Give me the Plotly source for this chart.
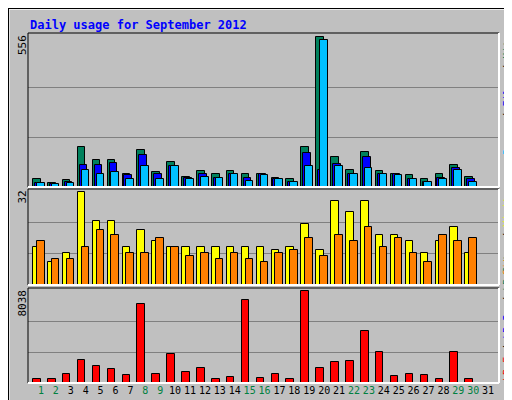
import plotly.graph_objects as go

# -- data --
days = list(range(1, 32))
hits = [28, 16, 25, 148, 99, 99, 50, 137, 54, 92, 39, 58, 47, 58, 47, 50, 35, 31, 148, 556,
        111, 62, 130, 58, 50, 43, 28, 50, 81, 39, 0]
files = [16, 13, 20, 81, 81, 88, 43, 118, 47, 77, 35, 50, 35, 47, 35, 47, 28, 20, 126, 62,
         84, 50, 111, 50, 47, 28, 20, 35, 69, 28, 0]
pages = [16, 13, 16, 62, 47, 54, 31, 77, 31, 77, 31, 39, 35, 47, 24, 43, 28, 20, 77, 548,
         77, 50, 69, 47, 43, 28, 20, 31, 65, 20, 0]
visits = [13, 8, 11, 32, 22, 22, 13, 19, 15, 13, 13, 13, 13, 13, 13, 13, 12, 13, 21, 12,
          29, 25, 29, 17, 17, 15, 11, 15, 20, 11, 0]
sites = [15, 9, 9, 13, 19, 17, 11, 11, 16, 13, 10, 11, 9, 11, 9, 8, 11, 12, 16, 10,
         17, 15, 20, 13, 16, 11, 8, 17, 15, 16, 0]
kbytes = [381, 381, 820, 1963, 1524, 1260, 733, 6886, 820, 2490, 996, 1348, 381, 557, 7237, 469,
          820, 381, 8038, 1348, 1787, 1875, 4512, 2666, 645, 820, 733, 381, 2666, 381, 0]
weekend = [1, 2, 8, 9, 15, 16, 22, 23, 29, 30]

MONO = "DejaVu Sans Mono"
W = 0.51

fig = go.Figure()

def bars(vals, color, offset, yaxis):
    fig.add_trace(go.Bar(x=days, y=vals, marker=dict(color=color, line=dict(color="black", width=1)),
                         width=W, offset=offset, xaxis="x", yaxis=yaxis, showlegend=False))

bars(hits, "#00805C", -0.53, "y")
bars(files, "#0000FF", -0.40, "y")
bars(pages, "#00C0FF", -0.27, "y")
bars(visits, "#FFFF00", -0.53, "y2")
bars(sites, "#FF8000", -0.27, "y2")
bars(kbytes, "#FF0000", -0.53, "y3")

ticktext = ['<span style="color:#008040">%d</span>' % d if d in weekend else str(d) for d in days]

def yax(domain, mx):
    return dict(domain=domain, range=[0, mx * 1.03], tickvals=[mx / 3, mx * 2 / 3],
                showticklabels=False, ticks="", gridcolor="#808080", gridwidth=1,
                zeroline=False, anchor="x", fixedrange=True)

fig.update_layout(
    width=512, height=400, margin=dict(l=0, r=0, t=0, b=0),
    paper_bgcolor="#C0C0C0", plot_bgcolor="#C0C0C0", barmode="overlay", bargap=0,
    font=dict(family=MONO, size=10, color="black"),
    xaxis=dict(domain=[20 / 512, 491 / 512], range=[0.13, 31.73], tickvals=days, ticktext=ticktext,
               showgrid=False, ticks="", anchor="y3", tickfont=dict(size=10), fixedrange=True),
    yaxis=yax([0.5525, 0.9375], max(hits)),
    yaxis2=yax([0.3075, 0.5475], max(visits)),
    yaxis3=yax([0.0625, 0.30], max(kbytes)),
)

# panel frames (dark top/left, white bottom/right)
for y0, y1 in [(0.5525, 0.9375), (0.3075, 0.5475), (0.0625, 0.30)]:
    x0, x1 = 20 / 512, 491 / 512
    fig.add_shape(type="line", xref="paper", yref="paper", x0=x0, x1=x1, y0=y1, y1=y1, line=dict(color="black", width=1))
    fig.add_shape(type="line", xref="paper", yref="paper", x0=x0, x1=x0, y0=y0, y1=y1, line=dict(color="black", width=1))
    fig.add_shape(type="line", xref="paper", yref="paper", x0=x0, x1=x1, y0=y0, y1=y0, line=dict(color="white", width=2))
    fig.add_shape(type="line", xref="paper", yref="paper", x0=x1, x1=x1, y0=y0, y1=y1, line=dict(color="white", width=2))

# outer border
fig.add_shape(type="rect", xref="paper", yref="paper", x0=0.002, x1=0.998, y0=0.003, y1=0.997,
              line=dict(color="white", width=1))
fig.add_shape(type="rect", xref="paper", yref="paper", x0=0, x1=1, y0=0, y1=1,
              line=dict(color="black", width=2))

fig.add_annotation(text="<b>Daily usage for September 2012</b>", xref="paper", yref="paper",
                   x=20 / 512, y=1 - 8 / 400, xanchor="left", yanchor="top", showarrow=False,
                   font=dict(family=MONO, size=12, color="#0000FF"))

for label, ytop in [(str(max(hits)), 0.9375), (str(max(visits)), 0.5475), (str(max(kbytes)), 0.30)]:
    fig.add_annotation(text=label, xref="paper", yref="paper", x=14 / 512, y=ytop, xanchor="center",
                       yanchor="top", textangle=-90, showarrow=False, font=dict(family=MONO, size=11))

right = [
    ('<span style="color:#00C0FF">Pages</span> / <span style="color:#0000FF">Files</span> / '
     '<span style="color:#00805C">Hits</span>', 0.9375, "top"),
    ('<span style="color:#FF8000">Sites</span> / <span style="color:#FFFF00">Visits</span>', 0.5475, "top"),
    ('<span style="color:#FF0000">kB F</span> / <span style="color:#0000FF">kB In</span> / '
     '<span style="color:#00805C">kB Out</span>', 0.0625, "bottom"),
]
for text, yy, anchor in right:
    fig.add_annotation(text=text, xref="paper", yref="paper", x=499 / 512, y=yy,
                       xanchor="center", yanchor=anchor, textangle=-90, showarrow=False,
                       font=dict(family=MONO, size=10, color="black"))

fig.write_html("out.html")
